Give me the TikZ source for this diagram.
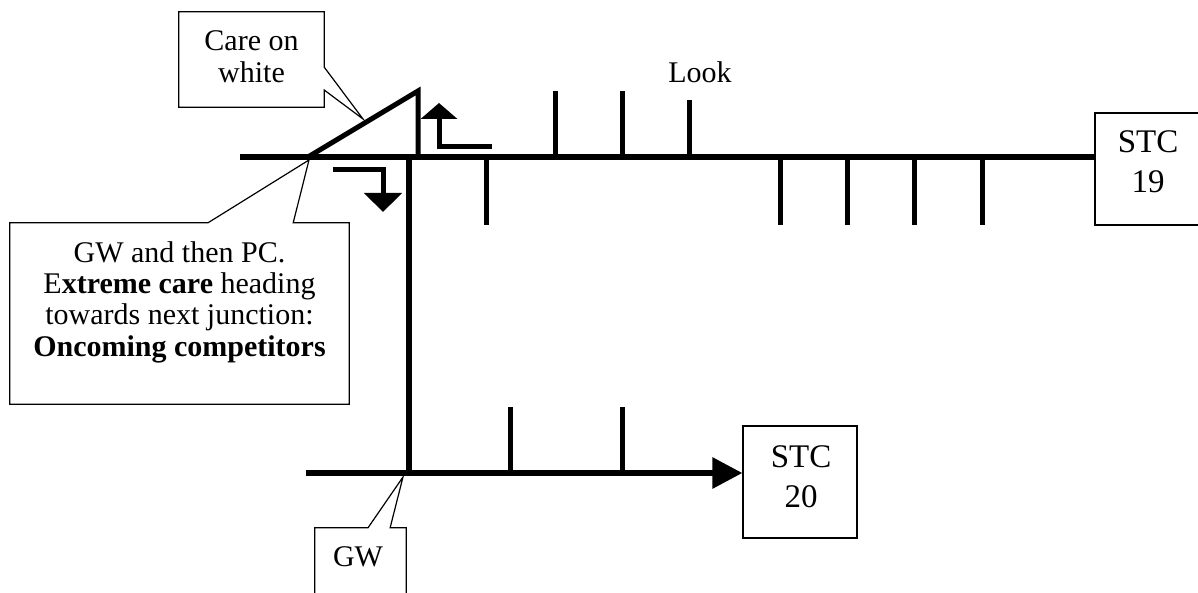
\documentclass[tikz,border=0pt]{standalone}
\usepackage{fontspec}
\setmainfont{Liberation Serif}
\usetikzlibrary{calc,arrows.meta}

\tikzset{
    road/.style={line width=6pt},
    spur/.style={line width=5pt},
    outline/.style={line width=1.2pt},
    boxshape/.style={rectangle, inner sep=0pt},
    calltext/.style={align=center, inner sep=0pt, font=\fontsize{30}{32}\selectfont},
    stctext/.style={align=center, inner sep=0pt, font=\fontsize{33}{40}\selectfont}
}

\begin{document}
\begin{tikzpicture}[x=1pt,y=-1pt]
    \useasboundingbox (0,0) rectangle (1198,593);

    % Boxes at the ends
    \node[boxshape, draw, outline, minimum width=114pt, minimum height=112pt] (stcnineteen) at (1152,169) {};
    \node[stctext] (stcnineteentext) at (1148,162) {STC\\19};
    \node[boxshape, draw, outline, minimum width=114pt, minimum height=112pt] (stctwenty) at (800,482) {};
    \node[stctext] (stctwentytext) at (801,476.5) {STC\\20};

    % Roads
    \coordinate (mainwest) at (240,157);
    \coordinate (junction) at (409,157);
    \coordinate (lowjunction) at (409,473);
    \coordinate (lowwest) at (306,473);
    \draw[road] (mainwest) -- (stcnineteen.west |- mainwest);
    \draw[road] (junction) -- (lowjunction);
    \draw[road, -{Triangle[length=30pt,width=30pt]}] (lowwest) -- (stctwenty.west |- lowwest);

    % Side turnings
    \foreach \x in {555,622} {
        \draw[spur] (\x,91) -- (\x,157);
    }
    \draw[spur] (689,100) -- (689,157);
    \foreach \x in {486,780,847,914,982} {
        \draw[spur] (\x,157) -- (\x,225);
    }
    \foreach \x in {510,622} {
        \draw[spur] (\x,407) -- (\x,473);
    }

    % Slip road
    \coordinate (slipstart) at (308,157);
    \coordinate (slipcorner) at (418,91);
    \draw[spur, line join=miter] (slipstart) -- (slipcorner) -- (418,157);

    % Turn arrows
    \draw[spur, line join=miter, -{Triangle[length=16pt,width=36pt]}] (492,147) -- (439,147) -- (439,103);
    \draw[spur, line join=miter, -{Triangle[length=19pt,width=37pt]}] (333,170) -- (383,170) -- (383,212);

    % Look
    \node[calltext] (look) at (700,72.5) {Look};

    % Callout: care on white
    \node[boxshape, minimum width=145pt, minimum height=95pt] (care) at (251.5,59.5) {};
    \node[calltext] (caretext) at (251.5,56.4) {Care on\\white};
    \coordinate (caretip) at (363,119);
    \draw[outline] (care.north west) -- (care.north east)
        -- ($(care.north east)!0.58!(care.south east)$) -- (caretip)
        -- ($(care.north east)!0.82!(care.south east)$) -- (care.south east)
        -- (care.south west) -- cycle;

    % Callout: GW and then PC
    \node[boxshape, minimum width=339pt, minimum height=181pt] (pcbox) at (179.5,313.5) {};
    \node[calltext, font=\fontsize{30}{31.3}\selectfont] (pctext) at (179.5,302) {GW and then PC.\\
        E\textbf{xtreme care} heading\\towards next junction:\\\textbf{Oncoming competitors}};
    \coordinate (pctip) at (309,160);
    \draw[outline] (pcbox.north west)
        -- ($(pcbox.north west)!0.584!(pcbox.north east)$) -- (pctip)
        -- ($(pcbox.north west)!0.835!(pcbox.north east)$) -- (pcbox.north east)
        -- (pcbox.south east) -- (pcbox.south west) -- cycle;

    % Callout: GW
    \node[boxshape, minimum width=91pt, minimum height=95pt] (gwbox) at (360.5,575.5) {};
    \node[calltext] (gwtext) at (358,557) {GW};
    \coordinate (gwtip) at (403,477);
    \draw[outline] (gwbox.north west)
        -- ($(gwbox.north west)!0.582!(gwbox.north east)$) -- (gwtip)
        -- ($(gwbox.north west)!0.824!(gwbox.north east)$) -- (gwbox.north east)
        -- (gwbox.south east) -- (gwbox.south west) -- cycle;
\end{tikzpicture}
\end{document}
